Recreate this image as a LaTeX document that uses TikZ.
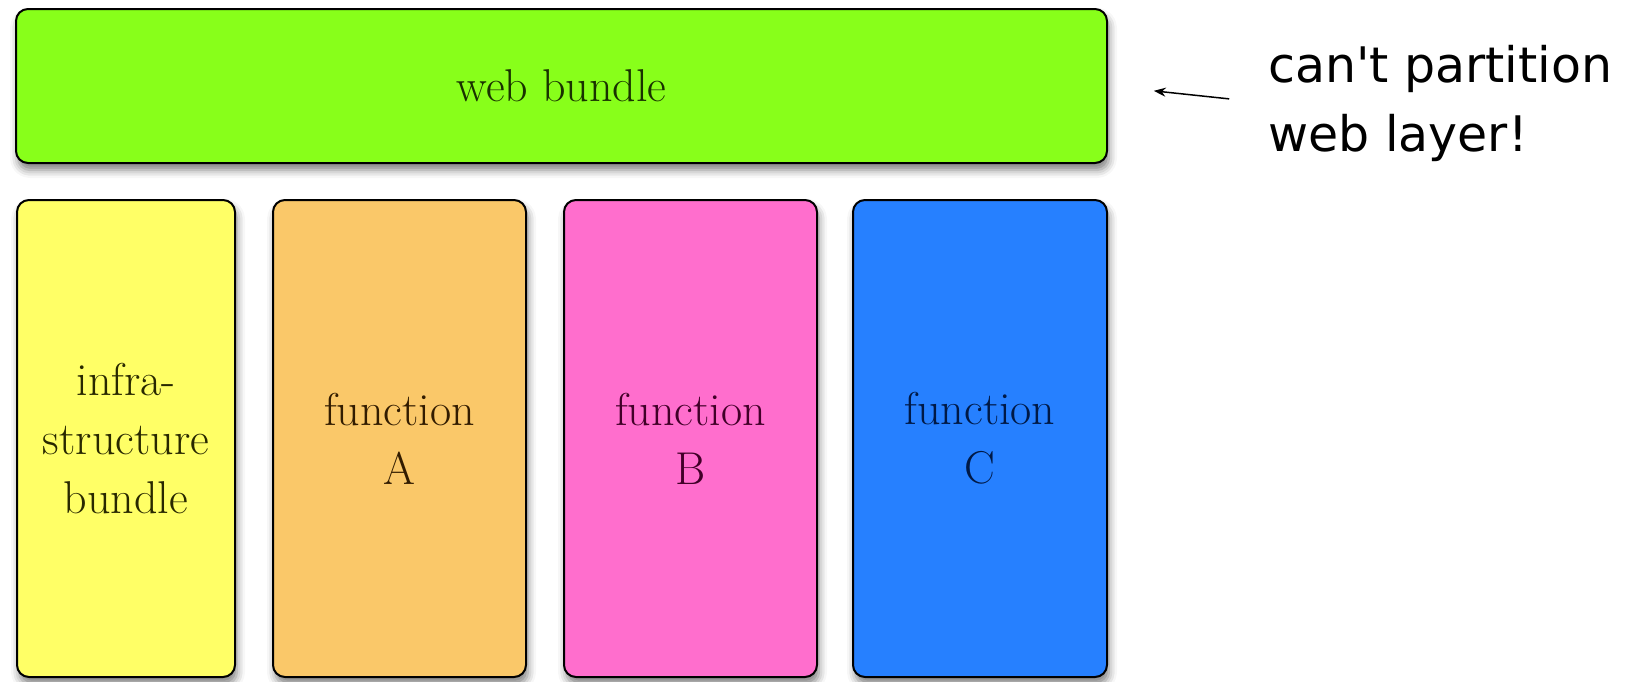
\documentclass[tikz,border=0pt]{standalone}
\usepackage{fontspec}
\newfontfamily\notefont{DejaVu Sans}
\usetikzlibrary{shadows.blur, arrows.meta}

\definecolor{webfill}{RGB}{136,255,26}
\definecolor{webtext}{RGB}{25,50,0}
\definecolor{infrafill}{RGB}{255,255,102}
\definecolor{infratext}{RGB}{40,40,0}
\definecolor{afill}{RGB}{250,200,105}
\definecolor{atext}{RGB}{50,28,0}
\definecolor{bfill}{RGB}{255,110,205}
\definecolor{btext}{RGB}{65,0,40}
\definecolor{cfill}{RGB}{38,128,255}
\definecolor{ctext}{RGB}{0,25,70}

\begin{document}
\begin{tikzpicture}[x=1pt, y=-1pt,
  layerbox/.style={draw=black, line width=2pt, rounded corners=12pt,
    blur shadow={shadow xshift=2pt, shadow yshift=-7pt,
      shadow blur radius=8pt, shadow opacity=50},
    inner sep=0pt, align=center,
    font=\fontsize{46}{59}\selectfont},
  column/.style={layerbox, minimum height=477pt},
  note/.style={anchor=west, align=left, inner sep=0pt,
    font=\notefont\fontsize{49}{69}\selectfont},
  pointer/.style={-{Stealth[length=12pt, width=9pt]}, line width=1.5pt}]

\useasboundingbox (0,0) rectangle (1652,681);

% top layer spanning all columns
\node[layerbox, fill=webfill, text=webtext,
  minimum width=1091pt, minimum height=154pt] (web) at (561.5,86) {web bundle};

% vertical bundles
\node[column, fill=infrafill, text=infratext, minimum width=218pt]
  (infra) at (126,438.5) {infra-\\structure\\bundle};
\node[column, fill=afill, text=atext, minimum width=253pt]
  (fa) at (399.5,438.5) {function\\A};
\node[column, fill=bfill, text=btext, minimum width=253pt]
  (fb) at (690.5,438.5) {function\\B};
\node[column, fill=cfill, text=ctext, minimum width=254pt]
  (fc) at (980,438.5) {function\\C};

% remark with pointer
\node[note] (remark) at (1268,103)
  {can\textquotesingle t partition\\web layer!};
\draw[pointer, shorten <=39pt, shorten >=46pt] (remark.west) -- (web.east);

\end{tikzpicture}
\end{document}
